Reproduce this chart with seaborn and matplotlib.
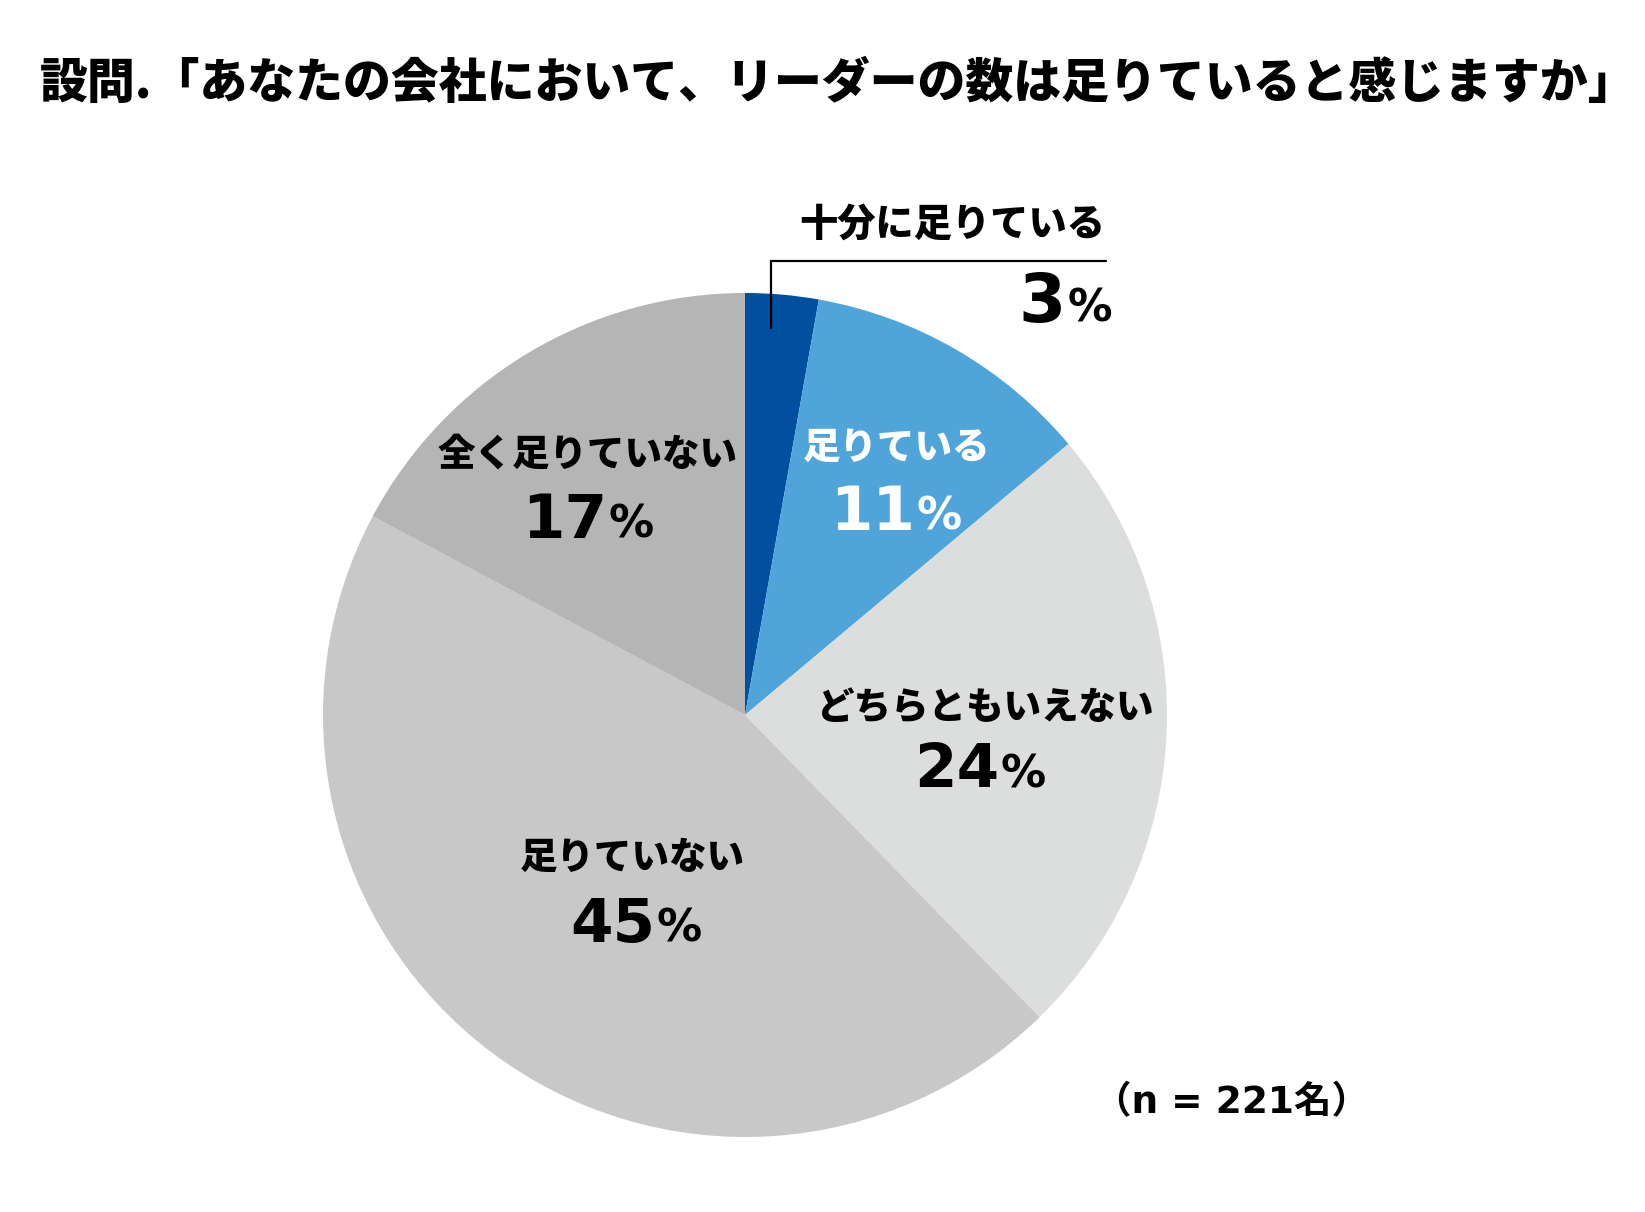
import matplotlib
matplotlib.use('Agg')
import matplotlib.pyplot as plt
import seaborn as sns

# データ
categories = ['十分に足りている', '足りている', 'どちらともいえない', '足りていない', '全く足りていない']
shares = [2.8, 11.1, 23.8, 45.1, 17.2]   # 円グラフの角度
pct_labels = [3, 11, 24, 45, 17]         # 表示されるパーセント
colors = ['#00509f', '#4fa5da', '#dcdddd', '#c8c8c8', '#b4b5b4']
title = '設問.「あなたの会社において、リーダーの数は足りていると感じますか」'
note = '（n = 221名）'

sns.set_theme(style='white')
plt.rcParams['font.family'] = ['Noto Sans CJK JP', 'DejaVu Sans']
plt.rcParams['text.color'] = 'black'

W, H = 1645, 1212
fig = plt.figure(figsize=(W / 100, H / 100), dpi=100)
ax = fig.add_axes([0, 0, 1, 1])

def Y(y):
    # 上から測ったピクセル位置 -> データ座標
    return H - y

ax.pie(shares, colors=sns.color_palette(colors), startangle=90, counterclock=False,
       center=(745, Y(715)), radius=422, wedgeprops=dict(linewidth=0))
ax.set_xlim(0, W)
ax.set_ylim(0, H)
ax.set_aspect('equal')
ax.axis('off')

jp = ['Noto Sans CJK JP', 'DejaVu Sans']
ax.text(40, Y(84), title, ha='left', va='center', fontsize=34.5,
        fontweight='heavy', color='black', family=jp)

# ラベル位置 (ラベル中心x, ラベル中心y, 数字と%の境x, 数字のベースラインy, 文字色)
label_pos = [
    (953, 225, 1066, 322, 'black'),
    (897, 448, 915, 530, 'white'),
    (986, 708, 999, 787, 'black'),
    (632, 858, 655, 942, 'black'),
    (588, 455, 607, 538, 'black'),
]

for i, (cat, pct) in enumerate(zip(categories, pct_labels)):
    lx, ly, sx, by, c = label_pos[i]
    if i == 0:
        ax.text(1105, Y(ly), cat, ha='right', va='center', fontsize=27.5,
                fontweight='heavy', color=c, family=jp)
        num_size = 49
        pct_size = 32
    else:
        ax.text(lx, Y(ly), cat, ha='center', va='center', fontsize=27,
                fontweight='heavy', color=c, family=jp)
        num_size = 44
        pct_size = 32.5
    ax.text(sx, Y(by), str(pct), ha='right', va='baseline', fontsize=num_size,
            fontweight='bold', color=c, family='DejaVu Sans')
    ax.text(sx + 2, Y(by), '%', ha='left', va='baseline', fontsize=pct_size,
            fontweight='semibold', color=c, family='DejaVu Sans')

# 引き出し線
ax.plot([771, 771, 1106], [Y(328), Y(261), Y(261)], color='black', lw=1.6,
        solid_joinstyle='miter')

ax.text(1232, Y(1103), note, ha='center', va='center', fontsize=27,
        fontweight='bold', color='black', family=['DejaVu Sans', 'Noto Sans CJK JP'])

fig.savefig('out.png', dpi=100, facecolor='white')
